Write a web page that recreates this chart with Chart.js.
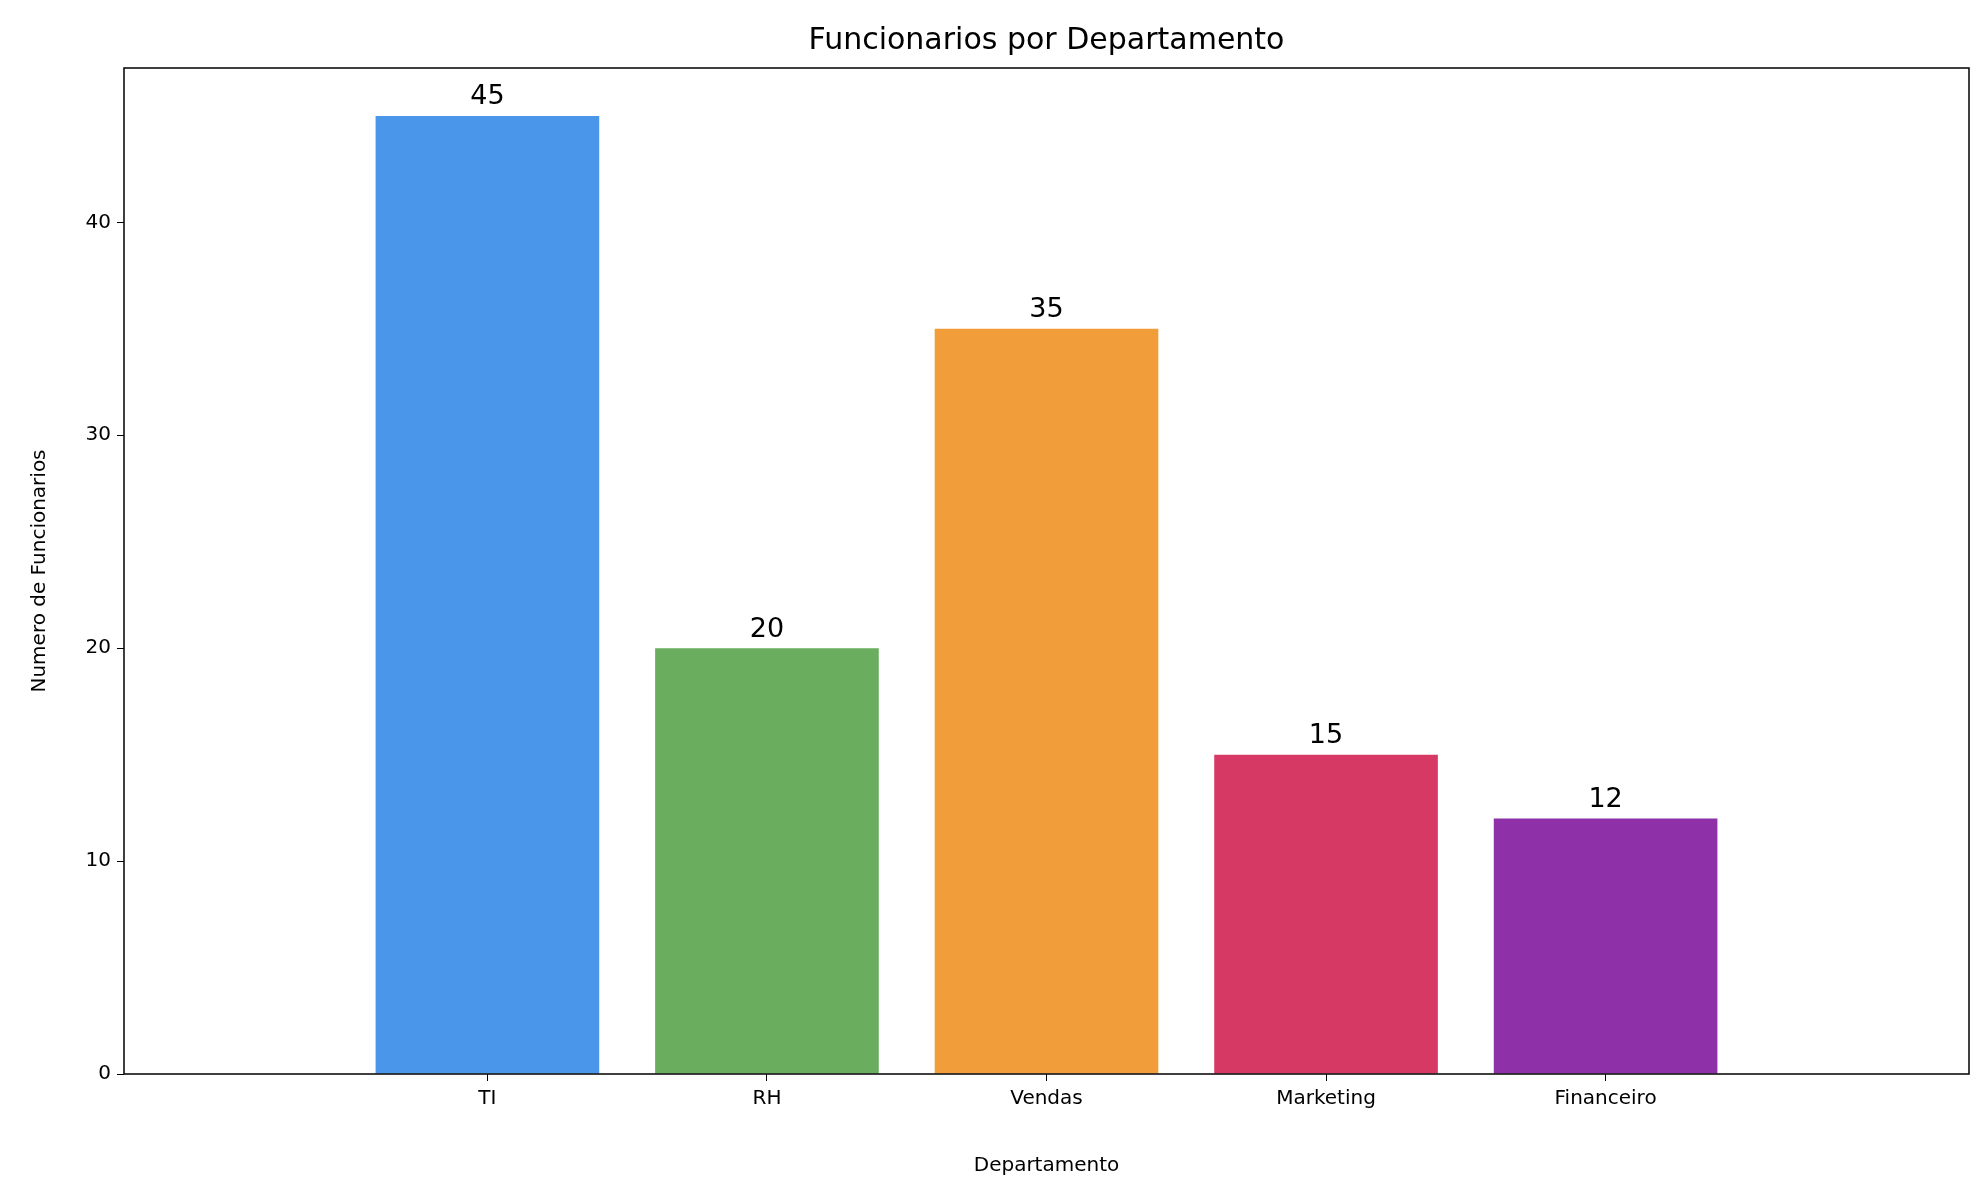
<!DOCTYPE html>
<html><head><meta charset="utf-8">
<script src="https://cdn.jsdelivr.net/npm/chart.js@4"></script>
<style>html,body{margin:0;padding:0;background:#fff}</style>
</head><body>
<canvas id="c" width="1982" height="1182"></canvas>
<script>
const categories = ["TI", "RH", "Vendas", "Marketing", "Financeiro"];
const values = [45, 20, 35, 15, 12];
const colors = ["#4A96EA", "#6AAD5E", "#F19E3A", "#D63A64", "#8E30A8"];
const yTicks = [0, 10, 20, 30, 40];
const titleText = "Funcionarios por Departamento";
const FONT = "'DejaVu Sans', sans-serif";

const overlay = {
  id: 'overlay',
  afterDraw(chart) {
    const ctx = chart.ctx, a = chart.chartArea;
    ctx.save();
    ctx.strokeStyle = '#000'; ctx.lineWidth = 1.5;
    ctx.strokeRect(a.left, a.top, a.right - a.left, a.bottom - a.top);
    ctx.fillStyle = '#000';
    ctx.textAlign = 'center'; ctx.textBaseline = 'bottom';
    ctx.font = "30px " + FONT;
    ctx.fillText(titleText, (a.left + a.right) / 2, a.top - 12);
    ctx.font = "27px " + FONT;
    const meta = chart.getDatasetMeta(0);
    meta.data.forEach((el, i) => {
      ctx.fillText(String(values[i]), el.x, el.y - 5);
    });
    ctx.restore();
  }
};

new Chart(document.getElementById('c'), {
  type: 'bar',
  data: { datasets: [{ data: values.map((v, i) => ({ x: i, y: v })), backgroundColor: colors, categoryPercentage: 1.0, barPercentage: 0.8 }] },
  options: {
    responsive: false, devicePixelRatio: 1, animation: false,
    layout: { padding: { top: 68, right: 13, left: 0, bottom: 0 } },
    plugins: { legend: { display: false }, tooltip: { enabled: false } },
    scales: {
      x: {
        type: 'linear', min: -0.64, max: 4.64,
        afterBuildTicks(s) { s.ticks = categories.map((c, i) => ({ value: i })); },
        grid: { display: true, drawOnChartArea: false, tickLength: 7, color: '#000', offset: false },
        border: { display: false },
        ticks: { color: '#000', font: { family: FONT, size: 20 }, padding: 6, callback: (v) => categories[v] },
        title: { display: true, text: 'Departamento', color: '#000', font: { family: FONT, size: 20 }, padding: { top: 4 } },
        afterFit(s) { s.height = 108; }
      },
      y: {
        min: 0, max: 47.25,
        afterBuildTicks(s) { s.ticks = yTicks.map(v => ({ value: v })); },
        grid: { display: true, drawOnChartArea: false, tickLength: 7, color: '#000' },
        border: { display: false },
        ticks: { color: '#000', font: { family: FONT, size: 20 }, padding: 6 },
        title: { display: true, text: 'Numero de Funcionarios', color: '#000', font: { family: FONT, size: 20 }, padding: { top: 28, bottom: 0 } },
        afterFit(s) { s.width = 124; }
      }
    }
  },
  plugins: [overlay]
});
</script>
</body></html>
